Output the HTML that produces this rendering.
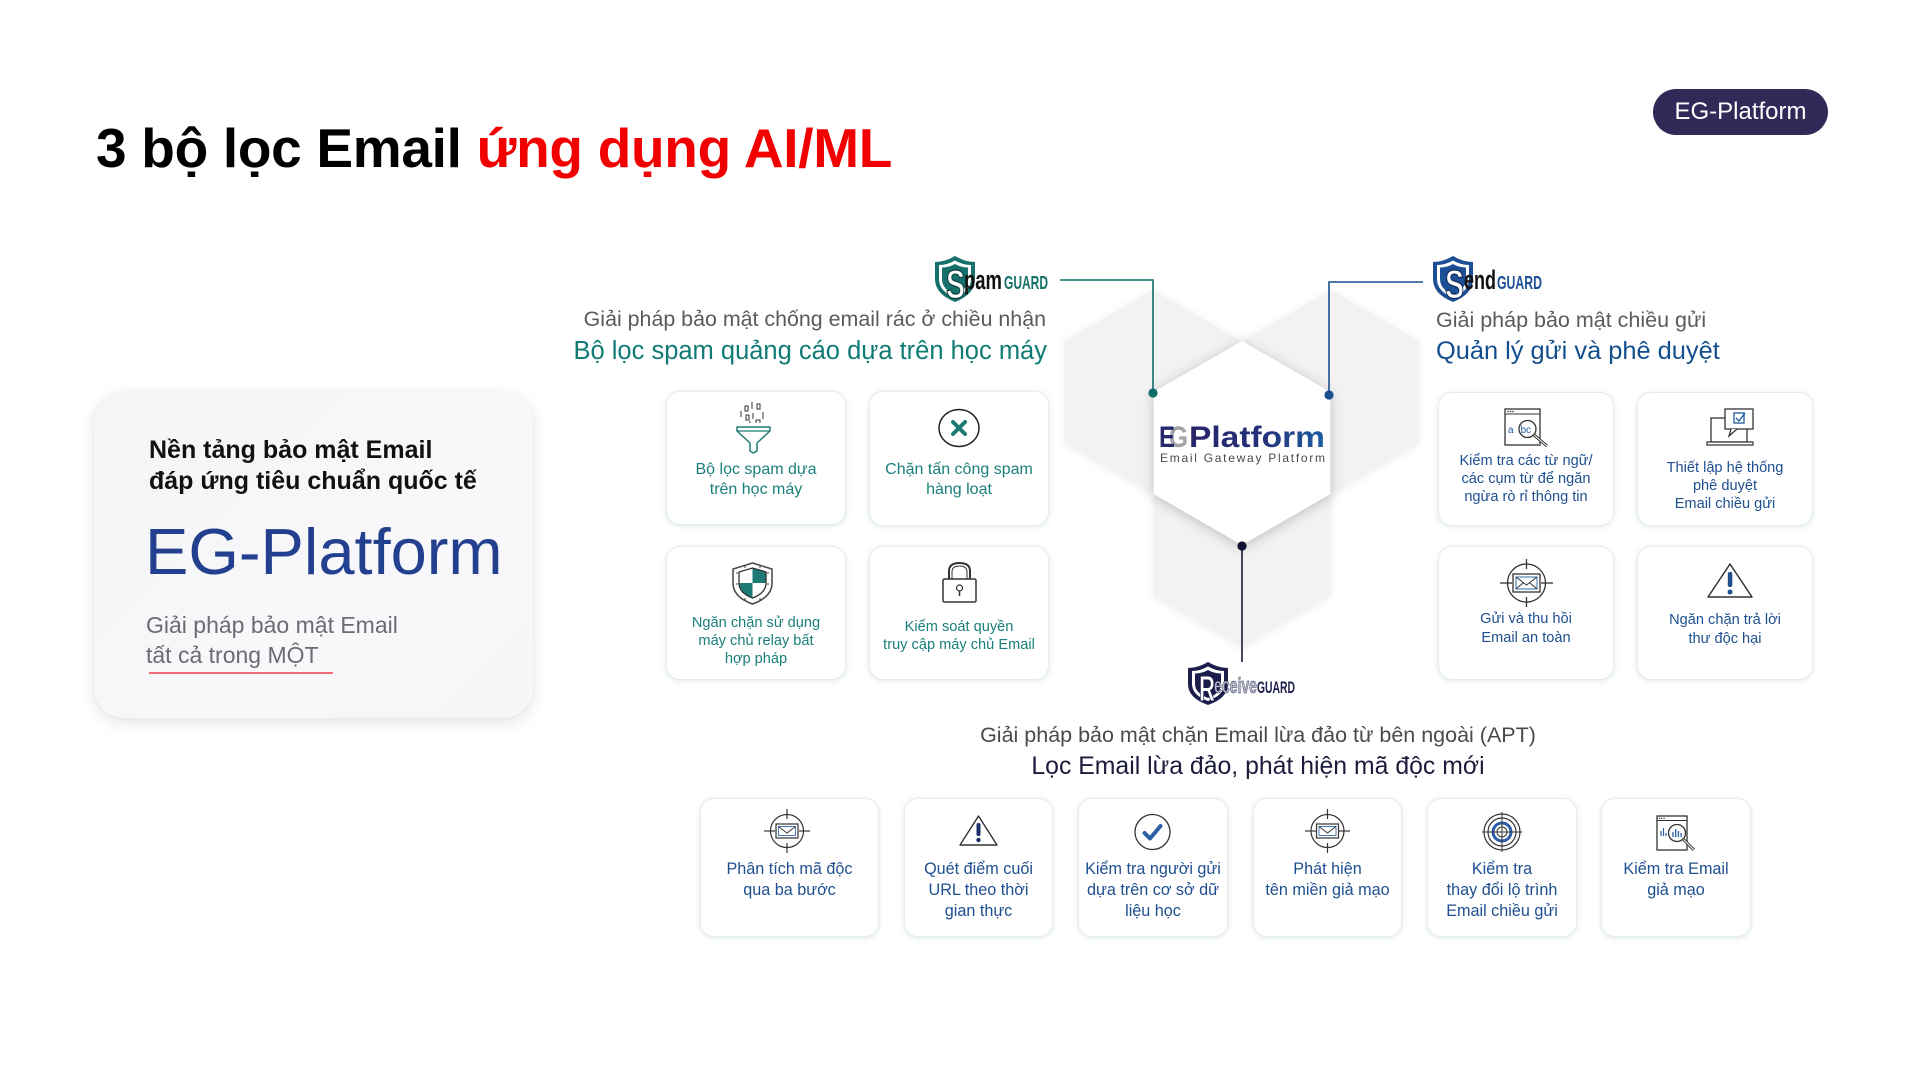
<!DOCTYPE html>
<html lang="vi">
<head>
<meta charset="utf-8">
<style>
  html,body{margin:0;padding:0;background:#fff;}
  #wrap{position:relative;width:1920px;height:1080px;overflow:hidden;background:#fff;font-family:"Liberation Sans","DejaVu Sans",sans-serif;}
  .t{position:absolute;white-space:nowrap;font-family:"Liberation Sans","DejaVu Sans",sans-serif;}
  .card{position:absolute;background:#fff;border:1.5px solid #e3ecef;border-radius:14px;box-shadow:0 1px 6px rgba(110,150,160,0.22);box-sizing:border-box;}
  .ct{position:absolute;text-align:center;white-space:nowrap;font-family:"Liberation Sans","DejaVu Sans",sans-serif;}
  .teal{color:#1a7f7a;}
  .blue{color:#1e4f8f;}
</style>
</head>
<body>
<div id="wrap">

  <!-- Title -->
  <div class="t" style="left:96px;top:121px;font-size:55px;line-height:55px;letter-spacing:-0.3px;font-weight:bold;color:#000;">3 bộ lọc Email <span style="color:#f20000;">ứng dụng AI/ML</span></div>

  <!-- Badge -->
  <div style="position:absolute;left:1653px;top:89px;width:175px;height:46px;border-radius:23px;background:#2f2a57;color:#fff;font-size:24px;line-height:46px;text-align:center;font-family:'Liberation Sans',sans-serif;">EG-Platform</div>

  <!-- Left card -->
  <div style="position:absolute;left:94px;top:392px;width:439px;height:326px;border-radius:30px;background:linear-gradient(135deg,#f4f5f7 0%,#f8f8fa 60%,#f6f6f8 100%);box-shadow:0 5px 16px rgba(0,0,0,0.10),0 0 4px rgba(0,0,0,0.05);"></div>
  <div class="t" style="left:149px;top:435px;font-size:25px;line-height:31px;font-weight:bold;color:#111;">Nền tảng bảo mật Email<br>đáp ứng tiêu chuẩn quốc tế</div>
  <div class="t" style="left:145px;top:519px;font-size:65px;line-height:65px;color:#22408e;">EG-Platform</div>
  <div class="t" style="left:146px;top:610px;font-size:23px;line-height:30px;color:#6b6b72;">Giải pháp bảo mật Email<br>tất cả trong MỘT</div>
  <div style="position:absolute;left:149px;top:672px;width:184px;height:2px;background:#f26b77;"></div>

  <!-- SpamGuard headings -->
  <div class="t" style="right:874px;top:309px;font-size:21.4px;line-height:21.4px;color:#5a5a5a;text-align:right;">Giải pháp bảo mật chống email rác ở chiều nhận</div>
  <div class="t" style="right:873px;top:338.5px;font-size:25.5px;line-height:25.5px;color:#0f7b74;text-align:right;">Bộ lọc spam quảng cáo dựa trên học máy</div>

  <!-- SendGuard headings -->
  <div class="t" style="left:1436px;top:310px;font-size:21.5px;line-height:21.5px;color:#5a5a5a;">Giải pháp bảo mật chiều gửi</div>
  <div class="t" style="left:1436px;top:338.5px;font-size:25.4px;line-height:25.4px;color:#134f8c;">Quản lý gửi và phê duyệt</div>

  <!-- ReceiveGuard headings -->
  <div class="t" style="left:858px;width:800px;text-align:center;top:725px;font-size:21.5px;line-height:21.5px;color:#4a4a4a;">Giải pháp bảo mật chặn Email lừa đảo từ bên ngoài (APT)</div>
  <div class="t" style="left:858px;width:800px;text-align:center;top:755px;font-size:24.8px;line-height:24.8px;color:#1c1c3c;">Lọc Email lừa đảo, phát hiện mã độc mới</div>

  <!-- Spam cards -->
  <div class="card" style="left:666px;top:391px;width:180px;height:134px;"></div>
  <div class="card" style="left:869px;top:391px;width:180px;height:135px;"></div>
  <div class="card" style="left:666px;top:546px;width:180px;height:134px;"></div>
  <div class="card" style="left:869px;top:546px;width:180px;height:134px;"></div>

  <!-- Send cards -->
  <div class="card" style="left:1438px;top:392px;width:176px;height:134px;"></div>
  <div class="card" style="left:1637px;top:392px;width:176px;height:134px;"></div>
  <div class="card" style="left:1438px;top:546px;width:176px;height:134px;"></div>
  <div class="card" style="left:1637px;top:546px;width:176px;height:134px;"></div>

  <!-- Bottom cards -->
  <div class="card" style="left:700px;top:798px;width:179px;height:139px;"></div>
  <div class="card" style="left:904px;top:798px;width:149px;height:139px;"></div>
  <div class="card" style="left:1078px;top:798px;width:150px;height:139px;"></div>
  <div class="card" style="left:1253px;top:798px;width:149px;height:139px;"></div>
  <div class="card" style="left:1427px;top:798px;width:150px;height:139px;"></div>
  <div class="card" style="left:1601px;top:798px;width:150px;height:139px;"></div>

  <svg width="1920" height="1080" viewBox="0 0 1920 1080" style="position:absolute;left:0;top:0;" font-family="Liberation Sans, DejaVu Sans, sans-serif">
    <defs>
      <filter id="hs" x="-30%" y="-30%" width="160%" height="160%">
        <feDropShadow dx="0" dy="2" stdDeviation="6" flood-color="#000" flood-opacity="0.22"/>
      </filter>
      <filter id="gs" x="-30%" y="-30%" width="160%" height="160%">
        <feDropShadow dx="0" dy="1" stdDeviation="4" flood-color="#000" flood-opacity="0.07"/>
      </filter>
      <linearGradient id="pg" x1="0" y1="0" x2="1" y2="0">
        <stop offset="0" stop-color="#27256a"/>
        <stop offset="0.55" stop-color="#24307a"/>
        <stop offset="1" stop-color="#1d5fa3"/>
      </linearGradient>
      <clipPath id="shq">
        <path d="M752.5 568 L766 572 L766 583 Q766 593 752.5 598 Q739 593 739 583 L739 572 Z"/>
      </clipPath>
    </defs>

    <!-- Hexagons -->
    <g fill="#f2f2f3" filter="url(#gs)">
      <polygon points="1153,290 1241.3,341 1241.3,443 1153,494 1064.7,443 1064.7,341"/>
      <polygon points="1331,290 1419.3,341 1419.3,443 1331,494 1242.7,443 1242.7,341"/>
      <polygon points="1242,443 1330.3,494 1330.3,596 1242,647 1153.7,596 1153.7,494"/>
    </g>
    <polygon points="1242,341 1330.3,392 1330.3,494 1242,545 1153.7,494 1153.7,392" fill="#fff" filter="url(#hs)"/>

    <!-- EGPlatform logo -->
    <text x="1169" y="447" font-size="30" font-weight="bold" fill="#a3a3a8" textLength="19" lengthAdjust="spacingAndGlyphs">G</text>
    <text x="1159" y="447" font-size="30" font-weight="bold" fill="#262a6c" textLength="16" lengthAdjust="spacingAndGlyphs">E</text>
    <text x="1189" y="447" font-size="30" font-weight="bold" fill="url(#pg)" textLength="136" lengthAdjust="spacingAndGlyphs">Platform</text>
    <text x="1160" y="462" font-size="12" fill="#4a4a4a" textLength="165" lengthAdjust="spacing">Email Gateway Platform</text>

    <!-- Connectors -->
    <polyline points="1060,280 1153,280 1153,393" fill="none" stroke="#0f6e69" stroke-width="1.6"/>
    <circle cx="1153" cy="393" r="4.6" fill="#0f6e69"/>
    <polyline points="1423,282 1329,282 1329,395" fill="none" stroke="#1a4f8f" stroke-width="1.6"/>
    <circle cx="1329" cy="395" r="4.6" fill="#1a4f8f"/>
    <line x1="1242" y1="546" x2="1242" y2="662" stroke="#1b1b3a" stroke-width="1.6"/>
    <circle cx="1242" cy="546" r="4.6" fill="#111133"/>

    <!-- SpamGuard logo -->
    <path d="M935,262 Q945,262 955,256 Q965,262 975,262 L975,279 Q975,294 955,302 Q935,294 935,279 Z" fill="#16716c"/>
    <path d="M939,265 Q947,265 955,260.5 Q963,265 971,265 L971,279 Q971,291 955,298 Q939,291 939,279 Z" fill="#fff"/>
    <path d="M942,267.5 Q949,267.5 955,264 Q961,267.5 968,267.5 L968,279 Q968,289 955,295 Q942,289 942,279 Z" fill="#16716c"/>
    <text x="946" y="298" font-size="40" font-weight="bold" fill="#fff" stroke="#0d3d3a" stroke-width="1.2" textLength="19" lengthAdjust="spacingAndGlyphs">S</text>
    <text x="964" y="289" font-size="27" font-weight="bold" fill="#111" textLength="38" lengthAdjust="spacingAndGlyphs">pam</text>
    <text x="1004" y="289" font-size="18" font-weight="bold" fill="#16716c" textLength="44" lengthAdjust="spacingAndGlyphs">GUARD</text>

    <!-- SendGuard logo -->
    <path d="M1433,262 Q1443,262 1453,256 Q1463,262 1473,262 L1473,279 Q1473,294 1453,302 Q1433,294 1433,279 Z" fill="#1d4f96"/>
    <path d="M1437,265 Q1445,265 1453,260.5 Q1461,265 1469,265 L1469,279 Q1469,291 1453,298 Q1437,291 1437,279 Z" fill="#fff"/>
    <path d="M1440,267.5 Q1447,267.5 1453,264 Q1459,267.5 1466,267.5 L1466,279 Q1466,289 1453,295 Q1440,289 1440,279 Z" fill="#1d4f96"/>
    <text x="1445" y="298" font-size="40" font-weight="bold" fill="#fff" stroke="#0e2a55" stroke-width="1.2" textLength="19" lengthAdjust="spacingAndGlyphs">S</text>
    <text x="1464" y="289" font-size="27" font-weight="bold" fill="#111" textLength="32" lengthAdjust="spacingAndGlyphs">end</text>
    <text x="1497" y="289" font-size="18" font-weight="bold" fill="#1d4f96" textLength="45" lengthAdjust="spacingAndGlyphs">GUARD</text>

    <!-- ReceiveGuard logo -->
    <path d="M1188,668 Q1198,668 1208,662 Q1218,668 1228,668 L1228,684 Q1228,698 1208,705 Q1188,698 1188,684 Z" fill="#1b1d4a"/>
    <path d="M1192,671 Q1200,671 1208,666.5 Q1216,671 1224,671 L1224,684 Q1224,695 1208,701 Q1192,695 1192,684 Z" fill="#fff"/>
    <path d="M1195,673.5 Q1202,673.5 1208,670 Q1214,673.5 1221,673.5 L1221,684 Q1221,693 1208,698 Q1195,693 1195,684 Z" fill="#1b1d4a"/>
    <text x="1199" y="701" font-size="36" font-weight="bold" fill="#fff" stroke="#1b1d4a" stroke-width="1" textLength="16" lengthAdjust="spacingAndGlyphs">R</text>
    <text x="1214" y="693" font-size="22" font-weight="bold" fill="#b9bdc9" stroke="#1b1d4a" stroke-width="0.5" textLength="43" lengthAdjust="spacingAndGlyphs">eceive</text>
    <text x="1257" y="693" font-size="17" font-weight="bold" fill="#1b1d4a" textLength="38" lengthAdjust="spacingAndGlyphs">GUARD</text>

    <!-- ===== Spam icons ===== -->
    <g stroke="#333" stroke-width="1" fill="none">
      <rect x="745" y="406" width="3" height="5"/>
      <line x1="752" y1="402" x2="752" y2="409"/>
      <rect x="757" y="404" width="3" height="5"/>
      <line x1="741" y1="411" x2="741" y2="417"/>
      <rect x="746" y="415" width="3" height="5"/>
      <line x1="753" y1="413" x2="753" y2="419"/>
      <line x1="763" y1="412" x2="763" y2="419"/>
      <path d="M756 423 v-3 h4 v3"/>
      <line x1="750" y1="421" x2="750" y2="423"/>
    </g>
    <path d="M737 427 H770 V431 L757 443 V451 L753.5 453 L750 451 V443 L737 431 Z" stroke="#1d7a74" stroke-width="1.5" fill="#fff" stroke-linejoin="round"/>
    <line x1="737" y1="431" x2="770" y2="431" stroke="#1d7a74" stroke-width="1.2"/>

    <ellipse cx="959" cy="428" rx="20" ry="18.5" fill="none" stroke="#222" stroke-width="1.5"/>
    <g stroke="#1d7a74" stroke-width="4" stroke-linecap="round">
      <line x1="953" y1="422" x2="965" y2="434"/>
      <line x1="965" y1="422" x2="953" y2="434"/>
    </g>

    <path d="M752.5 563 L772 569 L772 583 Q772 597 752.5 604 Q733 597 733 583 L733 569 Z" fill="#fff" stroke="#444" stroke-width="1.5"/>
    <g fill="#555">
      <circle cx="737" cy="573" r="0.9"/><circle cx="768" cy="573" r="0.9"/>
      <circle cx="737" cy="584" r="0.9"/><circle cx="768" cy="584" r="0.9"/>
      <circle cx="745" cy="567" r="0.9"/><circle cx="760" cy="567" r="0.9"/>
      <circle cx="745" cy="599" r="0.9"/><circle cx="760" cy="599" r="0.9"/>
    </g>
    <g clip-path="url(#shq)">
      <rect x="752.5" y="566" width="15" height="17" fill="#1d7a74"/>
      <rect x="737" y="583" width="15.5" height="17" fill="#1d7a74"/>
    </g>
    <path d="M752.5 568 L766 572 L766 583 Q766 593 752.5 598 Q739 593 739 583 L739 572 Z" fill="none" stroke="#333" stroke-width="1.3"/>

    <path d="M949 580 V571 Q949 563 959.5 563 Q970 563 970 571 V580" fill="none" stroke="#333" stroke-width="2"/>
    <path d="M952 580 V572 Q952 566 959.5 566 Q967 566 967 572 V580" fill="none" stroke="#333" stroke-width="1"/>
    <rect x="943" y="579" width="33" height="23" rx="1.5" fill="#fff" stroke="#333" stroke-width="1.5"/>
    <circle cx="959.5" cy="588" r="3" fill="none" stroke="#333" stroke-width="1.2"/>
    <line x1="959.5" y1="591" x2="959.5" y2="596" stroke="#333" stroke-width="1.5"/>

    <!-- ===== Send icons ===== -->
    <rect x="1505" y="409" width="35" height="36" fill="#fff" stroke="#333" stroke-width="1.3"/>
    <line x1="1505" y1="414" x2="1540" y2="414" stroke="#333" stroke-width="1"/>
    <g fill="#333"><circle cx="1508" cy="411.5" r="0.8"/><circle cx="1510.5" cy="411.5" r="0.8"/><circle cx="1513" cy="411.5" r="0.8"/></g>
    <text x="1508" y="433" font-size="10" fill="#1f5aa0">a</text>
    <line x1="1534" y1="435" x2="1547" y2="446" stroke="#333" stroke-width="3"/>
    <line x1="1534" y1="435" x2="1547" y2="446" stroke="#fff" stroke-width="1"/>
    <circle cx="1527.5" cy="429" r="8.5" fill="#fff" stroke="#333" stroke-width="1.3"/>
    <text x="1520.5" y="433" font-size="10" fill="#1f5aa0">bc</text>

    <rect x="1711" y="418" width="36" height="24" fill="none" stroke="#333" stroke-width="1.3"/>
    <path d="M1707 442 H1753 V445 H1707 Z" fill="#fff" stroke="#333" stroke-width="1.2"/>
    <rect x="1725" y="409" width="28" height="20" fill="#fff" stroke="#333" stroke-width="1.3"/>
    <path d="M1731 429 L1729 436 L1737 429" fill="#fff" stroke="#333" stroke-width="1.3"/>
    <rect x="1734" y="413" width="10" height="10" fill="none" stroke="#1f5aa0" stroke-width="1.3"/>
    <path d="M1736 418 L1739 421 L1745 413" fill="none" stroke="#1f5aa0" stroke-width="1.3"/>

    <g stroke="#333" stroke-width="1.3" fill="none">
      <circle cx="1526.5" cy="583" r="19"/>
      <line x1="1500" y1="583" x2="1512" y2="583"/>
      <line x1="1541" y1="583" x2="1553" y2="583"/>
      <line x1="1526.5" y1="559" x2="1526.5" y2="569"/>
      <line x1="1526.5" y1="597" x2="1526.5" y2="607"/>
    </g>
    <rect x="1513" y="574" width="27" height="18" fill="#fff" stroke="#333" stroke-width="1.3"/>
    <rect x="1516" y="577" width="21" height="12" fill="none" stroke="#1f5aa0" stroke-width="0.9"/>
    <path d="M1516 577 L1526.5 585 L1537 577 M1516 589 L1523 583 M1537 589 L1530 583" fill="none" stroke="#333" stroke-width="1"/>

    <path d="M1730 564 L1752 597 L1708 597 Z" fill="none" stroke="#333" stroke-width="1.5" stroke-linejoin="round"/>
    <rect x="1727.8" y="572" width="4.5" height="15" rx="2" fill="#1f4f8f"/>
    <circle cx="1730" cy="592" r="2.5" fill="#1f4f8f"/>

    <!-- ===== Bottom icons ===== -->
    <g stroke="#333" stroke-width="1.2" fill="none">
      <circle cx="787" cy="831" r="16.5"/>
      <line x1="764" y1="831" x2="775" y2="831"/>
      <line x1="799" y1="831" x2="810" y2="831"/>
      <line x1="787" y1="809" x2="787" y2="819"/>
      <line x1="787" y1="843" x2="787" y2="853"/>
    </g>
    <rect x="776" y="824" width="22" height="14" fill="#fff" stroke="#333" stroke-width="1.2"/>
    <rect x="778.5" y="826.5" width="17" height="9" fill="none" stroke="#1f5aa0" stroke-width="0.8"/>
    <path d="M778.5 826.5 L787 833 L795.5 826.5" fill="none" stroke="#333" stroke-width="0.9"/>

    <path d="M978.5 816 L997 845 L960 845 Z" fill="none" stroke="#333" stroke-width="1.4" stroke-linejoin="round"/>
    <rect x="976.5" y="823" width="4" height="13" rx="1.8" fill="#1b2f6a"/>
    <circle cx="978.5" cy="840" r="2.2" fill="#1b2f6a"/>

    <circle cx="1152.5" cy="832" r="17.5" fill="none" stroke="#333" stroke-width="1.3"/>
    <path d="M1144.5 833 L1150 838.5 L1160.5 826" fill="none" stroke="#2b5ea7" stroke-width="4" stroke-linecap="round" stroke-linejoin="round"/>

    <g stroke="#333" stroke-width="1.2" fill="none">
      <circle cx="1327.5" cy="831" r="16.5"/>
      <line x1="1305" y1="831" x2="1316" y2="831"/>
      <line x1="1339" y1="831" x2="1350" y2="831"/>
      <line x1="1327.5" y1="809" x2="1327.5" y2="819"/>
      <line x1="1327.5" y1="843" x2="1327.5" y2="853"/>
    </g>
    <rect x="1316.5" y="824" width="22" height="14" fill="#fff" stroke="#333" stroke-width="1.2"/>
    <rect x="1319" y="826.5" width="17" height="9" fill="none" stroke="#1f5aa0" stroke-width="0.8"/>
    <path d="M1319 826.5 L1327.5 833 L1336 826.5" fill="none" stroke="#333" stroke-width="0.9"/>

    <g fill="none">
      <circle cx="1502" cy="832" r="18" stroke="#333" stroke-width="1.2"/>
      <circle cx="1502" cy="832" r="14" stroke="#333" stroke-width="1.2"/>
      <circle cx="1502" cy="832" r="9" stroke="#2b5ea7" stroke-width="3"/>
      <circle cx="1502" cy="832" r="5" stroke="#333" stroke-width="1"/>
      <line x1="1502" y1="812" x2="1502" y2="852" stroke="#333" stroke-width="1"/>
      <line x1="1482" y1="832" x2="1522" y2="832" stroke="#333" stroke-width="1"/>
    </g>

    <rect x="1657" y="816" width="30" height="34" fill="#fff" stroke="#333" stroke-width="1.3"/>
    <line x1="1657" y1="820.5" x2="1687" y2="820.5" stroke="#333" stroke-width="1"/>
    <g fill="#333"><circle cx="1659.5" cy="818.3" r="0.7"/><circle cx="1661.8" cy="818.3" r="0.7"/><circle cx="1664.1" cy="818.3" r="0.7"/></g>
    <g stroke="#2b5ea7" stroke-width="1.2">
      <line x1="1661" y1="836" x2="1661" y2="831"/>
      <line x1="1663.5" y1="836" x2="1663.5" y2="828"/>
      <line x1="1666" y1="836" x2="1666" y2="833"/>
    </g>
    <line x1="1683" y1="839" x2="1694" y2="850" stroke="#333" stroke-width="3"/>
    <line x1="1683" y1="839" x2="1694" y2="850" stroke="#fff" stroke-width="1"/>
    <circle cx="1677" cy="833" r="8.5" fill="#fff" stroke="#333" stroke-width="1.3"/>
    <g stroke="#2b5ea7" stroke-width="1.3">
      <line x1="1673" y1="837" x2="1673" y2="832"/>
      <line x1="1675.7" y1="837" x2="1675.7" y2="829"/>
      <line x1="1678.4" y1="837" x2="1678.4" y2="831"/>
      <line x1="1681.1" y1="837" x2="1681.1" y2="833"/>
    </g>
  </svg>

  <!-- Spam card texts -->
  <div class="ct teal" style="left:666px;width:180px;top:459.5px;font-size:16px;line-height:20px;">Bộ lọc spam dựa<br>trên học máy</div>
  <div class="ct teal" style="left:869px;width:180px;top:459.5px;font-size:16px;line-height:20px;">Chặn tấn công spam<br>hàng loạt</div>
  <div class="ct teal" style="left:666px;width:180px;top:613.8px;font-size:14.6px;line-height:18.3px;">Ngăn chặn sử dụng<br>máy chủ relay bất<br>hợp pháp</div>
  <div class="ct teal" style="left:869px;width:180px;top:618px;font-size:14.6px;line-height:18px;">Kiểm soát quyền<br>truy cập máy chủ Email</div>

  <!-- Send card texts -->
  <div class="ct blue" style="left:1438px;width:176px;top:452px;font-size:14.6px;line-height:18px;">Kiểm tra các từ ngữ/<br>các cụm từ để ngăn<br>ngừa rò rỉ thông tin</div>
  <div class="ct blue" style="left:1637px;width:176px;top:459px;font-size:14.6px;line-height:18px;">Thiết lập hệ thống<br>phê duyệt<br>Email chiều gửi</div>
  <div class="ct blue" style="left:1438px;width:176px;top:610.4px;font-size:14.6px;line-height:19px;">Gửi và thu hồi<br>Email an toàn</div>
  <div class="ct blue" style="left:1637px;width:176px;top:611.4px;font-size:14.6px;line-height:19px;">Ngăn chặn trả lời<br>thư độc hại</div>

  <!-- Bottom card texts -->
  <div class="ct blue" style="left:700px;width:179px;top:859px;font-size:16.2px;line-height:21px;">Phân tích mã độc<br>qua ba bước</div>
  <div class="ct blue" style="left:904px;width:149px;top:859px;font-size:16.2px;line-height:21px;">Quét điểm cuối<br>URL theo thời<br>gian thực</div>
  <div class="ct blue" style="left:1078px;width:150px;top:859px;font-size:16.2px;line-height:21px;">Kiểm tra người gửi<br>dựa trên cơ sở dữ<br>liệu học</div>
  <div class="ct blue" style="left:1253px;width:149px;top:859px;font-size:16.2px;line-height:21px;">Phát hiện<br>tên miền giả mạo</div>
  <div class="ct blue" style="left:1427px;width:150px;top:859px;font-size:16.2px;line-height:21px;">Kiểm tra<br>thay đổi lộ trình<br>Email chiều gửi</div>
  <div class="ct blue" style="left:1601px;width:150px;top:859px;font-size:16.2px;line-height:21px;">Kiểm tra Email<br>giả mạo</div>

</div>
</body>
</html>
